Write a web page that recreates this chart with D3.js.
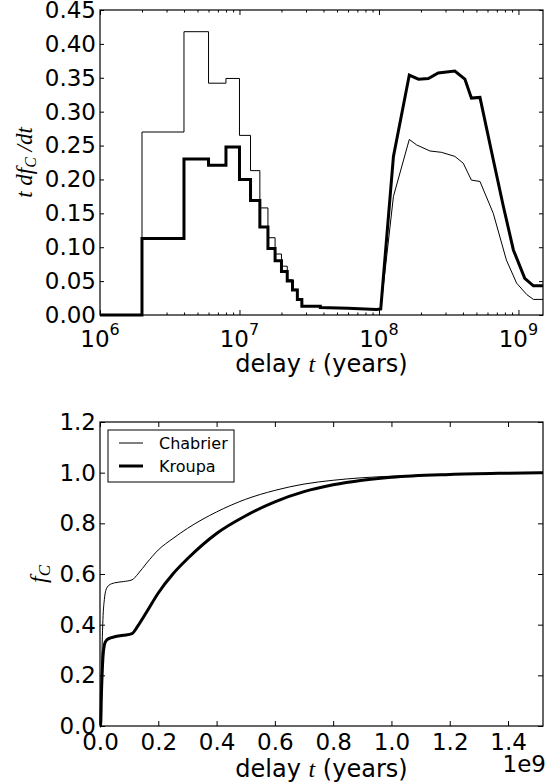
<!DOCTYPE html>
<html>
<head>
<meta charset="utf-8">
<script src="https://cdn.jsdelivr.net/npm/d3@7"></script>
<style>
  body { margin: 0; background: #fff; }
  svg { display: block; }
</style>
</head>
<body>
<script>
// ---- top panel: t dfC/dt, binned up to ~4e7 years, then a fine curve ----
const binEdges = [1e6, 2e6, 4e6, 6e6, 8e6, 1e7, 1.2e7, 1.4e7, 1.6e7, 1.8e7, 2e7, 2.2e7, 2.4e7, 2.6e7, 2.8e7, 3.8e7];
const chabrierBins = [0, 0.270, 0.418, 0.342, 0.349, 0.265, 0.213, 0.158, 0.114, 0.090, 0.072, 0.052, 0.038, 0.024, 0.013];
const kroupaBins   = [0, 0.113, 0.230, 0.221, 0.248, 0.200, 0.169, 0.130, 0.098, 0.080, 0.064, 0.050, 0.037, 0.023, 0.013];

const chabrierLateT = [3.8e7, 6e7, 9.6e7, 1.03e8, 1.27e8, 1.65e8, 1.86e8, 2.32e8, 2.81e8, 3.5e8, 4.02e8, 4.6e8, 5.3e8, 6.6e8, 8.2e8, 9.7e8, 1.15e9, 1.28e9, 1.5e9];
const chabrierLateV = [0.011, 0.010, 0.008, 0.009, 0.175, 0.259, 0.251, 0.242, 0.240, 0.234, 0.224, 0.199, 0.197, 0.150, 0.081, 0.047, 0.030, 0.023, 0.023];
const kroupaLateT   = [3.8e7, 6e7, 9.6e7, 1.03e8, 1.27e8, 1.65e8, 1.92e8, 2.26e8, 2.66e8, 3.5e8, 4.13e8, 4.6e8, 5.3e8, 6.6e8, 7.8e8, 9.2e8, 1.11e9, 1.28e9, 1.5e9];
const kroupaLateV   = [0.011, 0.010, 0.008, 0.009, 0.234, 0.354, 0.348, 0.349, 0.357, 0.360, 0.348, 0.320, 0.321, 0.229, 0.160, 0.096, 0.054, 0.043, 0.043];

const topYTicks = [0, 0.05, 0.10, 0.15, 0.20, 0.25, 0.30, 0.35, 0.40, 0.45];
const topXMajor = [1e6, 1e7, 1e8, 1e9];

// ---- bottom panel: cumulative fC ----
const cumT        = [0, 2e6, 5e6, 1e7, 1.5e7, 2e7, 3e7, 5e7, 8e7, 1.1e8, 1.3e8, 1.6e8, 2e8, 2.5e8, 3e8, 4e8, 5e8, 6e8, 7e8, 8e8, 9e8, 1.0e9, 1.2e9, 1.4e9, 1.52e9];
const chabrierCum = [0, 0, 0.20, 0.42, 0.50, 0.535, 0.555, 0.565, 0.570, 0.577, 0.600, 0.643, 0.695, 0.740, 0.780, 0.845, 0.895, 0.930, 0.955, 0.970, 0.980, 0.986, 0.994, 0.998, 1.0];
const kroupaCum   = [0, 0, 0.13, 0.27, 0.32, 0.335, 0.345, 0.352, 0.358, 0.365, 0.395, 0.450, 0.525, 0.600, 0.660, 0.760, 0.830, 0.885, 0.925, 0.952, 0.970, 0.982, 0.993, 0.998, 1.0];

const botXTicks = [0, 0.2e9, 0.4e9, 0.6e9, 0.8e9, 1.0e9, 1.2e9, 1.4e9];
const botYTicks = [0, 0.2, 0.4, 0.6, 0.8, 1.0, 1.2];

const seriesNames = ['Chabrier', 'Kroupa'];
const seriesWidths = [1, 3];

const W = 552, H = 784;
const sans = 'DejaVu Sans, sans-serif';
const serif = 'Liberation Serif, serif';
const tickFont = 23;
const labelFont = 24;

const svg = d3.select('body').append('svg')
    .attr('width', W)
    .attr('height', H);

// turn bins + late curve into one list of points
function histPoints(edges, vals, lateT, lateV) {
    const pts = [];
    vals.forEach((v, i) => {
        pts.push([edges[i], v]);
        pts.push([edges[i + 1], v]);
    });
    lateT.forEach((t, i) => pts.push([t, lateV[i]]));
    return pts;
}

// ================= TOP PANEL =================
const topBox = { left: 100, right: 543, top: 10, bottom: 315 };

const xTop = d3.scaleLog()
    .domain([1e6, 1.5e9])
    .range([topBox.left, topBox.right]);

const yTop = d3.scaleLinear()
    .domain([0, 0.45])
    .range([topBox.bottom, topBox.top]);

const gTop = svg.append('g');

const minorTicks = [];
[1e6, 1e7, 1e8, 1e9].forEach(dec => {
    for (let k = 2; k <= 9; k++) {
        if (dec * k <= 1.5e9) minorTicks.push(dec * k);
    }
});

// inward ticks on all four sides
gTop.append('g')
    .attr('transform', `translate(0,${topBox.bottom})`)
    .call(d3.axisBottom(xTop).tickValues(topXMajor).tickSize(-5).tickSizeOuter(0).tickFormat(''));
gTop.append('g')
    .attr('transform', `translate(0,${topBox.bottom})`)
    .call(d3.axisBottom(xTop).tickValues(minorTicks).tickSize(-2.5).tickSizeOuter(0).tickFormat(''));
gTop.append('g')
    .attr('transform', `translate(0,${topBox.top})`)
    .call(d3.axisTop(xTop).tickValues(topXMajor).tickSize(-5).tickSizeOuter(0).tickFormat(''));
gTop.append('g')
    .attr('transform', `translate(0,${topBox.top})`)
    .call(d3.axisTop(xTop).tickValues(minorTicks).tickSize(-2.5).tickSizeOuter(0).tickFormat(''));

gTop.append('g')
    .attr('transform', `translate(${topBox.left},0)`)
    .call(d3.axisLeft(yTop).tickValues(topYTicks).tickSize(-4).tickPadding(4).tickSizeOuter(0).tickFormat(d3.format('.2f')));
gTop.append('g')
    .attr('transform', `translate(${topBox.right},0)`)
    .call(d3.axisRight(yTop).tickValues(topYTicks).tickSize(-4).tickSizeOuter(0).tickFormat(''));

// log tick labels 10^n
topXMajor.forEach(v => {
    const t = gTop.append('text')
        .attr('x', xTop(v))
        .attr('y', 347)
        .attr('text-anchor', 'middle')
        .style('font-family', sans)
        .style('font-size', tickFont + 'px')
        .style('fill', '#000');
    t.append('tspan').text('10');
    t.append('tspan')
        .attr('dy', -12)
        .style('font-size', '16px')
        .text(Math.round(Math.log10(v)));
});

// curves
const lineTop = d3.line()
    .x(d => xTop(d[0]))
    .y(d => yTop(d[1]));

const topSeries = [
    histPoints(binEdges, chabrierBins, chabrierLateT, chabrierLateV),
    histPoints(binEdges, kroupaBins, kroupaLateT, kroupaLateV)
];

gTop.selectAll('.top-line')
    .data(topSeries)
    .join('path')
    .attr('class', 'top-line')
    .attr('d', lineTop)
    .attr('fill', 'none')
    .attr('stroke', '#000')
    .attr('stroke-width', (d, i) => seriesWidths[i])
    .attr('stroke-linejoin', 'miter');

// frame
gTop.append('rect')
    .attr('x', topBox.left)
    .attr('y', topBox.top)
    .attr('width', topBox.right - topBox.left)
    .attr('height', topBox.bottom - topBox.top)
    .attr('fill', 'none')
    .attr('stroke', '#000')
    .attr('stroke-width', 1.2);

// axis labels
const xlabTop = gTop.append('text')
    .attr('x', (topBox.left + topBox.right) / 2)
    .attr('y', 372)
    .attr('text-anchor', 'middle')
    .style('font-family', sans)
    .style('font-size', labelFont + 'px');
xlabTop.append('tspan').text('delay ');
xlabTop.append('tspan').style('font-family', serif).style('font-style', 'italic').text('t');
xlabTop.append('tspan').text(' (years)');

const ylabTop = gTop.append('text')
    .attr('transform', `translate(32,${(topBox.top + topBox.bottom) / 2}) rotate(-90)`)
    .attr('text-anchor', 'middle')
    .style('font-family', serif)
    .style('font-style', 'italic')
    .style('font-size', '23px');
ylabTop.append('tspan').text('t df');
ylabTop.append('tspan').attr('dy', 4).style('font-size', '16px').text('C');
ylabTop.append('tspan').attr('dy', -4).text(' /dt');

// ================= BOTTOM PANEL =================
const botBox = { left: 100, right: 543, top: 422, bottom: 726 };

const xBot = d3.scaleLinear()
    .domain([0, 1.52e9])
    .range([botBox.left, botBox.right]);

const yBot = d3.scaleLinear()
    .domain([0, 1.2])
    .range([botBox.bottom, botBox.top]);

const gBot = svg.append('g');

gBot.append('g')
    .attr('transform', `translate(0,${botBox.bottom})`)
    .call(d3.axisBottom(xBot).tickValues(botXTicks).tickSize(-5).tickPadding(8).tickSizeOuter(0)
        .tickFormat(d => d3.format('.1f')(d / 1e9)));
gBot.append('g')
    .attr('transform', `translate(0,${botBox.top})`)
    .call(d3.axisTop(xBot).tickValues(botXTicks).tickSize(-5).tickSizeOuter(0).tickFormat(''));
gBot.append('g')
    .attr('transform', `translate(${botBox.left},0)`)
    .call(d3.axisLeft(yBot).tickValues(botYTicks).tickSize(-5).tickPadding(4).tickSizeOuter(0).tickFormat(d3.format('.1f')));
gBot.append('g')
    .attr('transform', `translate(${botBox.right},0)`)
    .call(d3.axisRight(yBot).tickValues(botYTicks).tickSize(-5).tickSizeOuter(0).tickFormat(''));

gBot.append('text')
    .attr('x', 546)
    .attr('y', 772)
    .attr('text-anchor', 'end')
    .style('font-family', sans)
    .style('font-size', tickFont + 'px')
    .text('1e9');

const lineBot = d3.line()
    .x(d => xBot(d[0]))
    .y(d => yBot(d[1]))
    .curve(d3.curveMonotoneX);

const botSeries = [chabrierCum, kroupaCum].map(vals => cumT.map((t, i) => [t, vals[i]]));

gBot.selectAll('.cum-line')
    .data(botSeries)
    .join('path')
    .attr('class', 'cum-line')
    .attr('d', lineBot)
    .attr('fill', 'none')
    .attr('stroke', '#000')
    .attr('stroke-width', (d, i) => seriesWidths[i]);

gBot.append('rect')
    .attr('x', botBox.left)
    .attr('y', botBox.top)
    .attr('width', botBox.right - botBox.left)
    .attr('height', botBox.bottom - botBox.top)
    .attr('fill', 'none')
    .attr('stroke', '#000')
    .attr('stroke-width', 1.2);

// legend
const legend = gBot.append('g').attr('transform', 'translate(108,430)');
legend.append('rect')
    .attr('width', 126)
    .attr('height', 52)
    .attr('fill', '#fff')
    .attr('stroke', '#000')
    .attr('stroke-width', 1);
seriesNames.forEach((name, i) => {
    legend.append('line')
        .attr('x1', 11).attr('x2', 35)
        .attr('y1', 13 + i * 23).attr('y2', 13 + i * 23)
        .attr('stroke', '#000')
        .attr('stroke-width', seriesWidths[i]);
    legend.append('text')
        .attr('x', 51)
        .attr('y', 19 + i * 23)
        .style('font-family', sans)
        .style('font-size', '16px')
        .text(name);
});

const xlabBot = gBot.append('text')
    .attr('x', (botBox.left + botBox.right) / 2)
    .attr('y', 777)
    .attr('text-anchor', 'middle')
    .style('font-family', sans)
    .style('font-size', labelFont + 'px');
xlabBot.append('tspan').text('delay ');
xlabBot.append('tspan').style('font-family', serif).style('font-style', 'italic').text('t');
xlabBot.append('tspan').text(' (years)');

const ylabBot = gBot.append('text')
    .attr('transform', `translate(46,${(botBox.top + botBox.bottom) / 2}) rotate(-90)`)
    .attr('text-anchor', 'middle')
    .style('font-family', serif)
    .style('font-style', 'italic')
    .style('font-size', '24px');
ylabBot.append('tspan').text('f');
ylabBot.append('tspan').attr('dy', 4).style('font-size', '17px').text('C');

// common styling for all tick labels and tick lines
svg.selectAll('.tick text')
    .style('font-family', sans)
    .style('font-size', tickFont + 'px')
    .style('fill', '#000');
svg.selectAll('.tick line').attr('stroke', '#000');
svg.selectAll('.domain').remove();
</script>
</body>
</html>
